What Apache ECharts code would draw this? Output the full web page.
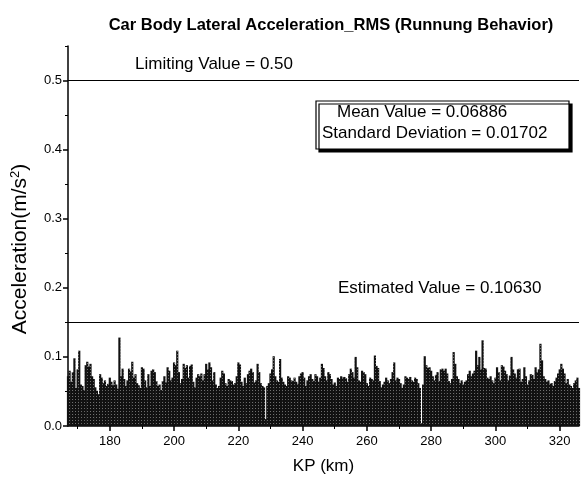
<!DOCTYPE html>
<html><head><meta charset="utf-8">
<script src="https://cdn.jsdelivr.net/npm/echarts@6/dist/echarts.min.js"></script>
<style>html,body{margin:0;padding:0;background:#fff}#c{width:582px;height:480px}</style>
</head><body><div id="c"></div>
<script>
// KP axis: one value every 0.5 km starting at 167 km
const kmStart = 167;
const kmStep = 0.5;
const rmsValues = [
0.072,0.080, 0.064,0.078, 0.098,0.055, 0.082,0.109, 0.060,0.058, 0.052,0.088, 0.093,0.086, 0.090,0.072, 0.068,0.056, 0.051,0.046,
0.075,0.070, 0.062,0.066, 0.058,0.061, 0.070,0.064, 0.059,0.066, 0.060,0.054, 0.128,0.072, 0.083,0.068, 0.058,0.066, 0.083,0.079,
0.093,0.070, 0.075,0.062, 0.059,0.055, 0.085,0.083, 0.066,0.056, 0.075,0.058, 0.080,0.082, 0.078,0.065, 0.058,0.060, 0.052,0.065,
0.072,0.063, 0.085,0.080, 0.066,0.070, 0.092,0.088, 0.109,0.078, 0.062,0.068, 0.090,0.084, 0.088,0.070, 0.087,0.089, 0.064,0.056,
0.070,0.075, 0.072,0.076, 0.066,0.075, 0.090,0.082, 0.092,0.085, 0.066,0.078, 0.060,0.055, 0.058,0.070, 0.080,0.076, 0.062,0.058,
0.068,0.066, 0.065,0.060, 0.062,0.072, 0.092,0.089, 0.064,0.058, 0.070,0.062, 0.075,0.080, 0.083,0.078, 0.063,0.066, 0.090,0.078,
0.062,0.058, 0.056,0.010, 0.058,0.062, 0.076,0.082, 0.101,0.072, 0.066,0.064, 0.097,0.070, 0.064,0.060, 0.058,0.072, 0.070,0.066,
0.065,0.070, 0.064,0.061, 0.072,0.076, 0.078,0.070, 0.058,0.066, 0.072,0.075, 0.068,0.065, 0.075,0.072, 0.064,0.070, 0.090,0.084,
0.072,0.066, 0.078,0.075, 0.068,0.060, 0.063,0.058, 0.070,0.068, 0.072,0.070, 0.071,0.069, 0.064,0.075, 0.083,0.078, 0.070,0.100,
0.085,0.066, 0.064,0.080, 0.078,0.075, 0.062,0.058, 0.070,0.068, 0.066,0.102, 0.087,0.084, 0.065,0.056, 0.060,0.064, 0.070,0.066,
0.062,0.068, 0.078,0.092, 0.066,0.070, 0.068,0.062, 0.055,0.060, 0.072,0.070, 0.068,0.071, 0.066,0.064, 0.070,0.068, 0.062,0.055,
0.004,0.060, 0.101,0.088, 0.084,0.085, 0.080,0.072, 0.066,0.074, 0.078,0.065, 0.082,0.083, 0.080,0.083, 0.076,0.065, 0.062,0.068,
0.107,0.090, 0.072,0.068, 0.062,0.066, 0.060,0.064, 0.066,0.075, 0.080,0.072, 0.076,0.080, 0.109,0.088, 0.100,0.082, 0.124,0.084,
0.083,0.070, 0.068,0.072, 0.066,0.062, 0.070,0.085, 0.078,0.066, 0.088,0.086, 0.080,0.075, 0.066,0.073, 0.100,0.082, 0.076,0.070,
0.082,0.083, 0.064,0.068, 0.085,0.072, 0.060,0.066, 0.075,0.074, 0.068,0.085, 0.078,0.082, 0.119,0.095, 0.072,0.068, 0.064,0.066,
0.061,0.062, 0.058,0.065, 0.070,0.076, 0.082,0.090, 0.083,0.076, 0.062,0.068, 0.060,0.058, 0.055,0.062, 0.066,0.070, 0.055
];
const xTickLabels = [180, 200, 220, 240, 260, 280, 300, 320];
const xMinorTicks = [170, 190, 210, 230, 250, 270, 290, 310];
const yTickLabels = [0, 0.1, 0.2, 0.3, 0.4, 0.5];
const yMinorTicks = [0.05, 0.15, 0.25, 0.35, 0.45, 0.55];
const referenceLines = [0.5, 0.153];   // limiting line, estimated line
const titleText = 'Car Body Lateral Acceleration_RMS (Runnung Behavior)';
const limitingText = 'Limiting Value = 0.50';
const estimatedText = 'Estimated Value = 0.10630';
const meanText = 'Mean Value = 0.06886';
const stdText = 'Standard Deviation = 0.01702';

const seriesData = rmsValues.map((v, i) => [kmStart + i * kmStep, v]);
const FONT = '"Liberation Sans", Arial, sans-serif';
const X_MIN = 167, X_MAX = 326, Y_MIN = 0, Y_MAX = 0.55;

const chart = echarts.init(document.getElementById('c'), null, {renderer: 'canvas'});
const axisLineStyle = {color: '#000', width: 1.5};
chart.setOption({
  backgroundColor: '#fff',
  animation: false,
  title: {
    text: titleText, left: 326, top: 12, textAlign: 'center',
    textStyle: {fontFamily: FONT, fontSize: 16.5, fontWeight: 'bold', color: '#000'}
  },
  grid: {left: 68, right: 3, top: 46, bottom: 53, containLabel: false},
  xAxis: [{
    type: 'value', min: X_MIN, max: X_MAX, position: 'bottom',
    name: 'KP (km)', nameLocation: 'middle', nameGap: 32,
    nameTextStyle: {fontFamily: FONT, fontSize: 17, color: '#000'},
    axisLine: {show: true, lineStyle: axisLineStyle},
    axisTick: {show: true, customValues: xTickLabels, length: 5, lineStyle: {color: '#000', width: 1.5}},
    axisLabel: {customValues: xTickLabels, fontFamily: FONT, fontSize: 13, color: '#000', margin: 9},
    splitLine: {show: false}
  }, {
    type: 'value', min: X_MIN, max: X_MAX, position: 'bottom',
    axisLine: {show: false},
    axisTick: {show: true, customValues: xMinorTicks, length: 3, lineStyle: {color: '#000', width: 1}},
    axisLabel: {show: false}, splitLine: {show: false}
  }],
  yAxis: [{
    type: 'value', min: Y_MIN, max: Y_MAX,
    name: '{a|Acceleration(m/s}{s|2}{a|)}', nameLocation: 'middle', nameGap: 36, nameRotate: 90,
    nameTextStyle: {
      padding: [0, 26, 0, 0],
      rich: {
        a: {fontFamily: FONT, fontSize: 21, color: '#000'},
        s: {fontFamily: FONT, fontSize: 13, color: '#000', verticalAlign: 'top', padding: [0, 0, 10, 0]}
      }
    },
    axisLine: {show: true, lineStyle: axisLineStyle},
    axisTick: {show: true, customValues: yTickLabels, length: 5, lineStyle: {color: '#000', width: 1.5}},
    axisLabel: {customValues: yTickLabels, formatter: v => v.toFixed(1), fontFamily: FONT, fontSize: 13, color: '#000', margin: 6},
    splitLine: {show: false}
  }, {
    type: 'value', min: Y_MIN, max: Y_MAX, position: 'left',
    axisLine: {show: false},
    axisTick: {show: true, customValues: yMinorTicks, length: 3, lineStyle: {color: '#000', width: 1}},
    axisLabel: {show: false}, splitLine: {show: false}
  }],
  series: [{
    type: 'bar', xAxisIndex: 0, yAxisIndex: 0,
    data: seriesData, barWidth: 2.2, barGap: '0%',
    itemStyle: {
      color: '#111',
      decal: {symbol: 'rect', symbolSize: 1, dashArrayX: [1, 2], dashArrayY: [1, 2], color: 'rgba(255,255,255,0.4)', rotation: 0}
    },
    silent: true,
    markLine: {
      silent: true, symbol: ['none', 'none'], label: {show: false},
      lineStyle: {color: '#000', width: 1, type: 'solid'},
      data: referenceLines.map(v => ({yAxis: v}))
    }
  }],
  graphic: [
    {type: 'text', left: 135, top: 56, style: {text: limitingText, font: '17px ' + FONT, fill: '#000'}},
    {type: 'text', left: 338, top: 280, style: {text: estimatedText, font: '17px ' + FONT, fill: '#000'}},
    {type: 'rect', shape: {x: 316, y: 101, width: 253, height: 48},
      style: {fill: '#fff', stroke: '#000', lineWidth: 1.2, shadowColor: '#000', shadowOffsetX: 3, shadowOffsetY: 3, shadowBlur: 0}},
    {type: 'text', left: 337, top: 104, style: {text: meanText, font: '17px ' + FONT, fill: '#000'}},
    {type: 'text', left: 322, top: 125, style: {text: stdText, font: '17px ' + FONT, fill: '#000'}}
  ]
});
</script></body></html>
